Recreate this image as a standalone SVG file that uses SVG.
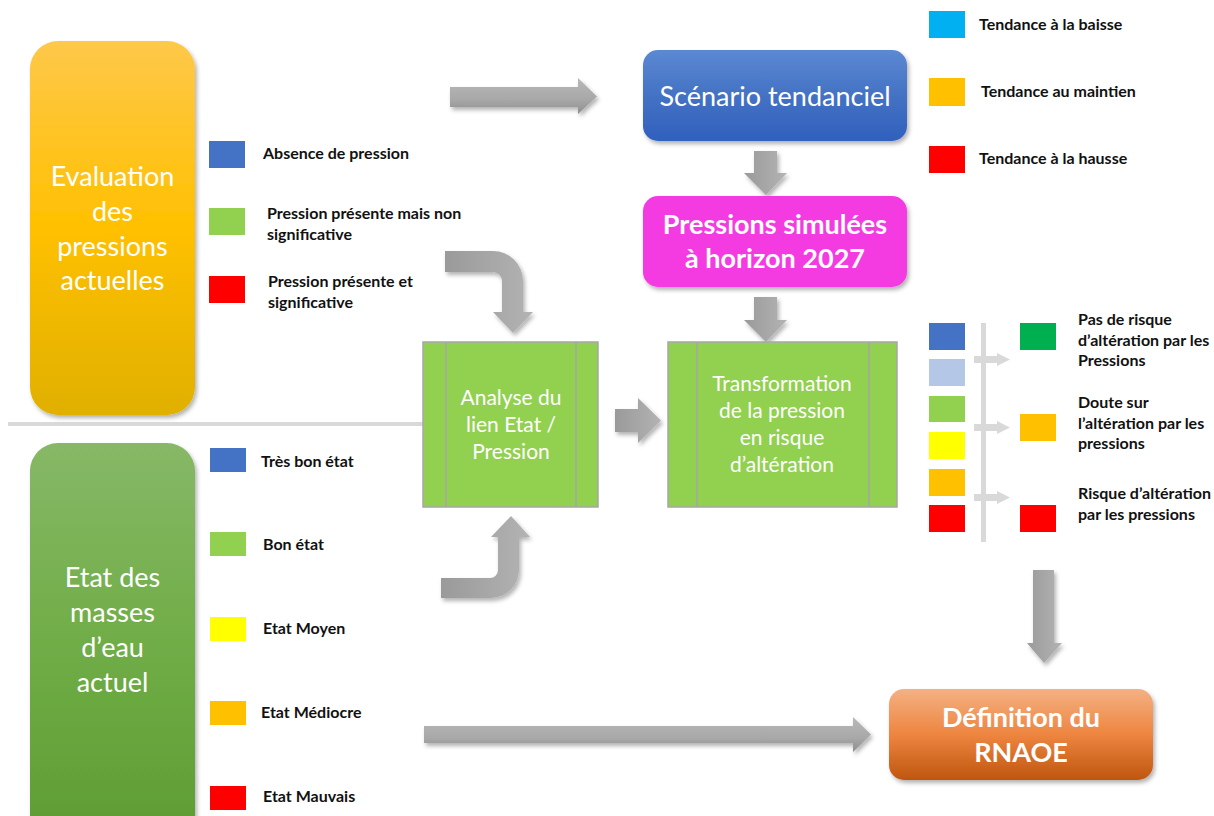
<svg xmlns="http://www.w3.org/2000/svg" width="1214" height="816" viewBox="0 0 1214 816">
<defs>
<style>
.bt{font-family:Lato,"Liberation Sans",sans-serif;fill:#fff;text-anchor:middle}
.lg{font-family:Lato,"Liberation Sans",sans-serif;font-weight:bold;font-size:16px;fill:#111}
.gb{fill:#92D050;stroke:#A6A6A6;stroke-width:1.5}
.gl{stroke:#A6A6A6;stroke-width:1.5}
.ar{filter:url(#sh)}
.sm{fill:#D9D9D9}
</style>
<filter id="sh" x="-20%" y="-20%" width="150%" height="150%">
<feDropShadow dx="2" dy="3" stdDeviation="2" flood-color="#000" flood-opacity="0.3"/>
</filter>
<linearGradient id="gY" x1="0" y1="0" x2="0" y2="1">
<stop offset="0" stop-color="#FEC84A"/><stop offset="0.5" stop-color="#FFC000"/><stop offset="1" stop-color="#E0B000"/>
</linearGradient>
<linearGradient id="gG" x1="0" y1="0" x2="0" y2="1">
<stop offset="0" stop-color="#87B867"/><stop offset="0.5" stop-color="#70AD47"/><stop offset="1" stop-color="#5E9C32"/>
</linearGradient>
<linearGradient id="gB" x1="0" y1="0" x2="0" y2="1">
<stop offset="0" stop-color="#5C89D3"/><stop offset="0.5" stop-color="#4472C4"/><stop offset="1" stop-color="#3060BD"/>
</linearGradient>
<linearGradient id="gO" x1="0" y1="0" x2="0" y2="1">
<stop offset="0" stop-color="#F4B183"/><stop offset="0.5" stop-color="#EE8540"/><stop offset="1" stop-color="#BF560F"/>
</linearGradient>
<linearGradient id="aH" x1="0" y1="0" x2="0" y2="1">
<stop offset="0" stop-color="#B8B8B8"/><stop offset="0.6" stop-color="#A8A8A8"/><stop offset="1" stop-color="#8E8E8E"/>
</linearGradient>
<linearGradient id="aV" x1="0" y1="0" x2="1" y2="0">
<stop offset="0" stop-color="#9A9A9A"/><stop offset="1" stop-color="#B3B3B3"/>
</linearGradient>
</defs>

<rect width="1214" height="816" fill="#fff"/>

<!-- separator -->
<rect x="8" y="422" width="417" height="4" fill="#D9D9D9"/>

<g id="connectors">
<path class="ar" fill="url(#aH)" d="M450 87 H578 V78 L597 96.5 L578 114 V107 H450 Z"/>
<path class="ar" fill="url(#aV)" d="M754 151 H777 V173 H787 L766 195 L744 173 H754 Z"/>
<path class="ar" fill="url(#aV)" d="M754 297 H777 V320 H787 L766 342 L744 320 H754 Z"/>
<path class="ar" fill="url(#aV)" d="M445 251 H493 A30 30 0 0 1 523 281 V312 H533 L513 333 L493 312 H502 V281 A9 9 0 0 0 493 272 H445 Z"/>
<path class="ar" fill="url(#aV)" d="M441 578 H490 A8 8 0 0 0 498 570 V537 H491 L511 516 L530 537 H519 V570 A28 28 0 0 1 491 598 H441 Z"/>
<path class="ar" fill="url(#aV)" d="M615 409 H638 V398 L661 420.5 L638 443 V432 H615 Z"/>
<path class="ar" fill="url(#aV)" d="M1033 570 H1054 V643 H1062 L1044 663 L1027 643 H1033 Z"/>
<path class="ar" fill="url(#aH)" d="M424 726 H853 V717 L871 734.5 L853 752 V743 H424 Z"/>
</g>

<g id="node-evaluation">
<rect x="30" y="41" width="165" height="374" rx="28" fill="url(#gY)" filter="url(#sh)"/>
<text class="bt" font-size="27"><tspan x="112.5" y="186">Evaluation</tspan><tspan x="112.5" y="221">des</tspan><tspan x="112.5" y="256">pressions</tspan><tspan x="112.5" y="290">actuelles</tspan></text>
</g>

<g id="node-etat">
<rect x="30" y="443" width="165" height="400" rx="28" fill="url(#gG)" filter="url(#sh)"/>
<text class="bt" font-size="27"><tspan x="112.5" y="587">Etat des</tspan><tspan x="112.5" y="622">masses</tspan><tspan x="112.5" y="657">d’eau</tspan><tspan x="112.5" y="692">actuel</tspan></text>
</g>

<g id="legend-pressions">
<rect x="209" y="141" width="36" height="27" fill="#4472C4"/>
<rect x="209" y="208" width="36" height="27" fill="#92D050"/>
<rect x="209" y="276" width="36" height="27" fill="#FF0000"/>
<text class="lg" x="263" y="159">Absence de pression</text>
<text class="lg"><tspan x="267" y="219">Pression présente mais non</tspan><tspan x="267" y="240">significative</tspan></text>
<text class="lg"><tspan x="268" y="287">Pression présente et</tspan><tspan x="268" y="308">significative</tspan></text>
</g>

<g id="legend-etat">
<rect x="210" y="448" width="36" height="24" fill="#4472C4"/>
<rect x="210" y="532" width="36" height="24" fill="#92D050"/>
<rect x="210" y="617" width="36" height="24" fill="#FFFF00"/>
<rect x="210" y="701" width="36" height="24" fill="#FFC000"/>
<rect x="210" y="786" width="36" height="24" fill="#FF0000"/>
<text class="lg" x="261" y="467">Très bon état</text>
<text class="lg" x="263" y="550">Bon état</text>
<text class="lg" x="263" y="634">Etat Moyen</text>
<text class="lg" x="261" y="718">Etat Médiocre</text>
<text class="lg" x="263" y="802">Etat Mauvais</text>
</g>

<g id="node-scenario">
<rect x="643" y="50" width="264" height="91" rx="15" fill="url(#gB)" filter="url(#sh)"/>
<text class="bt" font-size="27" x="775" y="106">Scénario tendanciel</text>
</g>

<g id="legend-tendance">
<rect x="929" y="11" width="36" height="27" fill="#00B0F0"/>
<rect x="929" y="78" width="36" height="28" fill="#FFC000"/>
<rect x="929" y="146" width="36" height="27" fill="#FF0000"/>
<text class="lg" x="979" y="30">Tendance à la baisse</text>
<text class="lg" x="981" y="97">Tendance au maintien</text>
<text class="lg" x="979" y="164">Tendance à la hausse</text>
</g>

<g id="node-pressions-simulees">
<rect x="643" y="196" width="264" height="91" rx="15" fill="#F43BE2" filter="url(#sh)"/>
<text class="bt" font-size="27" font-weight="bold"><tspan x="775" y="234">Pressions simulées</tspan><tspan x="775" y="268">à horizon 2027</tspan></text>
</g>

<g id="node-analyse">
<rect class="gb" x="423" y="342" width="175" height="165"/>
<line class="gl" x1="446" y1="342" x2="446" y2="507"/>
<line class="gl" x1="576" y1="342" x2="576" y2="507"/>
<text class="bt" font-size="21"><tspan x="511" y="405">Analyse du</tspan><tspan x="511" y="432">lien Etat /</tspan><tspan x="511" y="459">Pression</tspan></text>
</g>

<g id="node-transformation">
<rect class="gb" x="668" y="342" width="229" height="165"/>
<line class="gl" x1="697" y1="342" x2="697" y2="507"/>
<line class="gl" x1="869" y1="342" x2="869" y2="507"/>
<text class="bt" font-size="21"><tspan x="782" y="391">Transformation</tspan><tspan x="782" y="418">de la pression</tspan><tspan x="782" y="445">en risque</tspan><tspan x="782" y="472">d’altération</tspan></text>
</g>

<g id="legend-risque">
<rect x="929" y="323" width="36" height="27" fill="#4472C4"/>
<rect x="929" y="359" width="36" height="27" fill="#B4C7E7"/>
<rect x="929" y="396" width="36" height="26" fill="#92D050"/>
<rect x="929" y="432" width="36" height="27" fill="#FFFF00"/>
<rect x="929" y="469" width="36" height="27" fill="#FFC000"/>
<rect x="929" y="505" width="36" height="27" fill="#FF0000"/>
<rect class="sm" x="981" y="323" width="5" height="219"/>
<path class="sm" d="M974 356 H997 V353 L1010 359.5 L997 366 V363 H974 Z"/>
<path class="sm" d="M974 424 H997 V421 L1010 427.5 L997 434 V431 H974 Z"/>
<path class="sm" d="M974 494 H997 V491 L1010 497.5 L997 504 V501 H974 Z"/>
<rect x="1020" y="323" width="36" height="27" fill="#00B050"/>
<rect x="1020" y="414" width="36" height="27" fill="#FFC000"/>
<rect x="1020" y="505" width="36" height="27" fill="#FF0000"/>
<text class="lg"><tspan x="1078" y="325">Pas de risque</tspan><tspan x="1078" y="346">d’altération par les</tspan><tspan x="1078" y="366">Pressions</tspan></text>
<text class="lg"><tspan x="1078" y="408">Doute sur</tspan><tspan x="1078" y="429">l’altération par les</tspan><tspan x="1078" y="449">pressions</tspan></text>
<text class="lg"><tspan x="1078" y="499">Risque d’altération</tspan><tspan x="1078" y="520">par les pressions</tspan></text>
</g>

<g id="node-definition">
<rect x="889" y="689" width="264" height="91" rx="15" fill="url(#gO)" filter="url(#sh)"/>
<text class="bt" font-size="27" font-weight="bold"><tspan x="1021" y="727">Définition du</tspan><tspan x="1021" y="762">RNAOE</tspan></text>
</g>
</svg>
